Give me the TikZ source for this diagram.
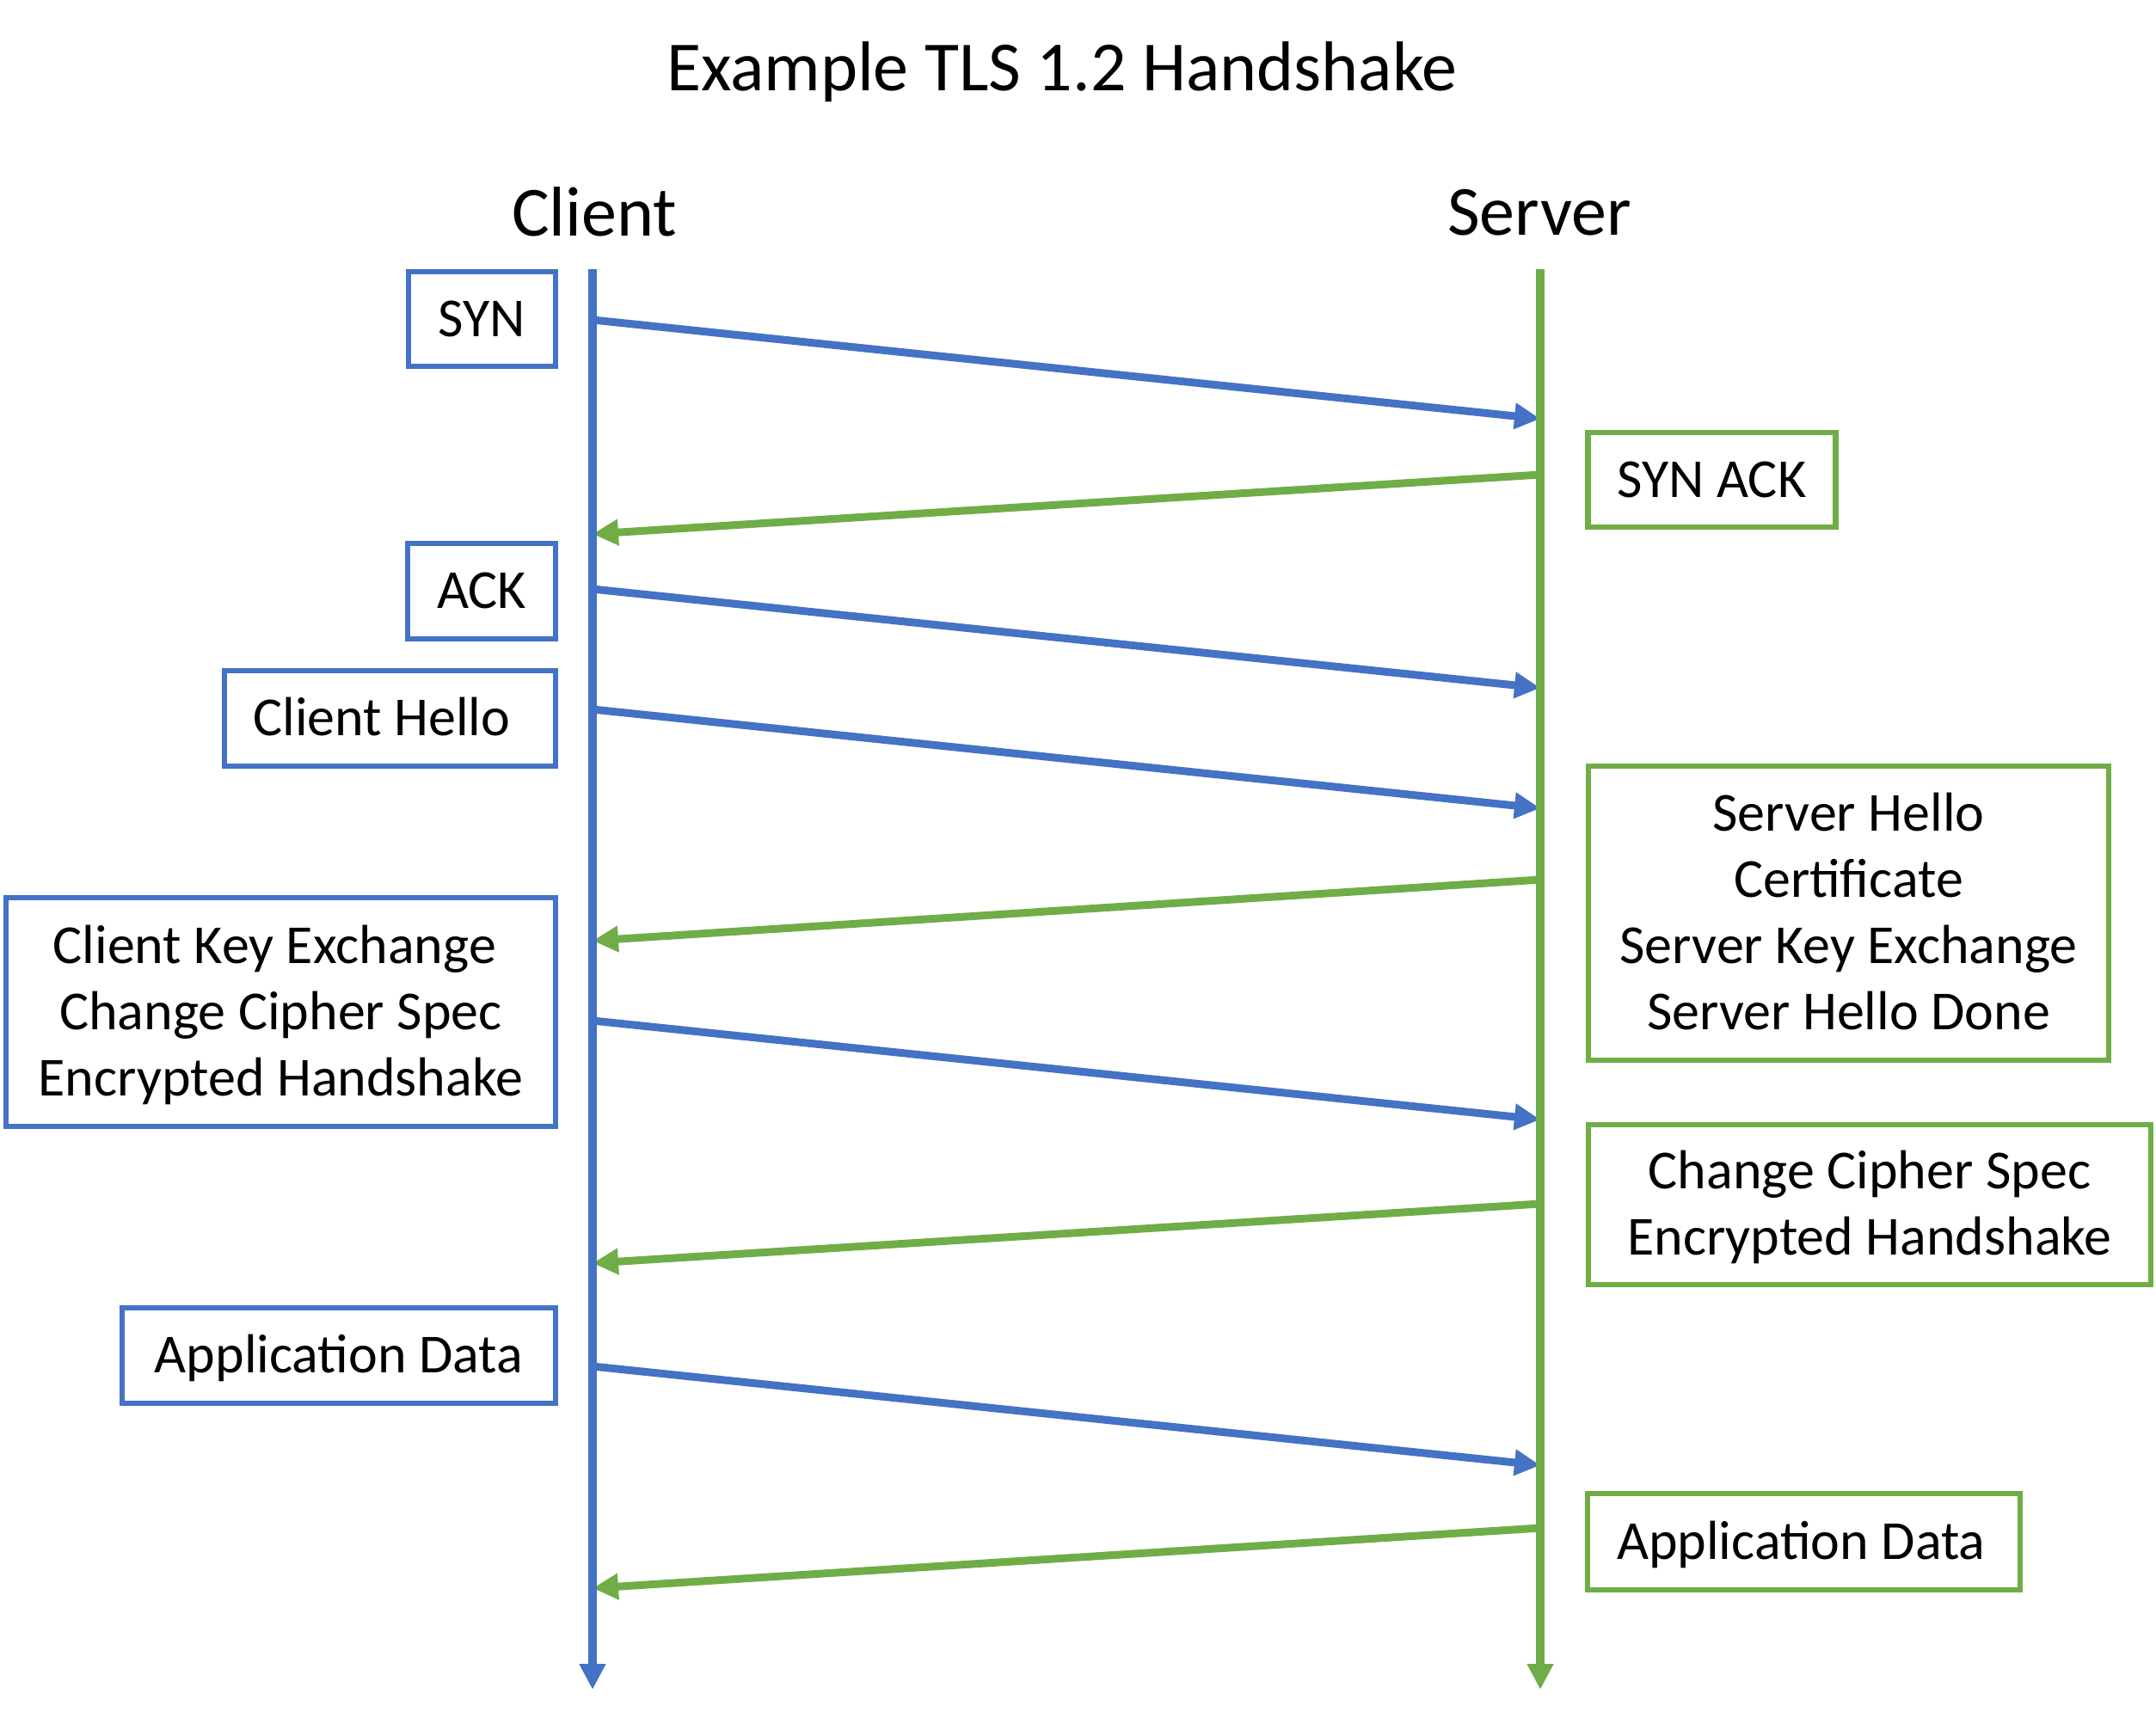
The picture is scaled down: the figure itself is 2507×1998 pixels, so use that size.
\documentclass[tikz,border=0pt]{standalone}
\usepackage{fontspec}
\setmainfont{Carlito}
\usetikzlibrary{arrows.meta}
\definecolor{cblue}{HTML}{4472C4}
\definecolor{cgreen}{HTML}{70AD47}
\newcommand{\firstl}[1]{\rule{0pt}{0.632em}\smash{#1}}
\newcommand{\nextl}[1]{\smash{#1}}
\begin{document}
\begin{tikzpicture}[x=0.5pt,y=-0.5pt,
  msgbox/.style={draw, line width=3.4pt, rectangle, inner sep=0pt, align=center,
    font=\fontsize{32pt}{38.5pt}\selectfont},
  cbox/.style={msgbox, draw=cblue},
  sbox/.style={msgbox, draw=cgreen},
  lifeline/.style={line width=5pt, -{Triangle[length=15pt,width=14.5pt]}},
  msg/.style={line width=4.5pt, -{Triangle[length=15pt,width=14.5pt]}},
  head/.style={font=\fontsize{41pt}{49pt}\selectfont, anchor=base, inner sep=0pt}
]
\useasboundingbox (0,0) rectangle (2507,1998);

% titles
\node[head] (title) at (1235,105) {Example TLS 1.2 Handshake};
\node[head] (client) at (691,274) {Client};
\node[head] (server) at (1790,273) {Server};

% lifeline end points
\coordinate (ctop) at (689,313);
\coordinate (cbot) at (689,1965);
\coordinate (stop) at (1791,313);
\coordinate (sbot) at (1791,1965);

% message end points
\coordinate (c1) at (689,372);  \coordinate (s1) at (1791,487);
\coordinate (s2) at (1791,552); \coordinate (c2) at (689,621);
\coordinate (c3) at (689,685);  \coordinate (s3) at (1791,800);
\coordinate (c4) at (689,825);  \coordinate (s4) at (1791,940);
\coordinate (s5) at (1791,1023);\coordinate (c5) at (689,1094);
\coordinate (c6) at (689,1187); \coordinate (s6) at (1791,1302);
\coordinate (s7) at (1791,1400);\coordinate (c7) at (689,1469);
\coordinate (c8) at (689,1589); \coordinate (s8) at (1791,1704);
\coordinate (s9) at (1791,1777);\coordinate (c9) at (689,1847);

% messages
\draw[msg, cblue]  (c1) -- (s1);
\draw[msg, cgreen] (s2) -- (c2);
\draw[msg, cblue]  (c3) -- (s3);
\draw[msg, cblue]  (c4) -- (s4);
\draw[msg, cgreen] (s5) -- (c5);
\draw[msg, cblue]  (c6) -- (s6);
\draw[msg, cgreen] (s7) -- (c7);
\draw[msg, cblue]  (c8) -- (s8);
\draw[msg, cgreen] (s9) -- (c9);

% lifelines
\draw[lifeline, cblue]  (ctop) -- (cbot);
\draw[lifeline, cgreen] (stop) -- (sbot);

% client boxes
\node[cbox, minimum width=85.5pt, minimum height=55pt] (syn) at (560.5,371) {\firstl{SYN}};
\node[cbox, minimum width=86pt, minimum height=55.5pt] (ack) at (560,687.5) {\firstl{ACK}};
\node[cbox, minimum width=192.5pt, minimum height=55.5pt] (chello) at (453.5,835.5) {\firstl{Client Hello\hspace{0.3em}}};
\node[cbox, minimum width=319.5pt, minimum height=133pt] (ckex) at (326.5,1177)
  {\firstl{Client Key Exchange\hspace{0.226em}}\\ \nextl{Change Cipher Spec}\\ \nextl{Encrypted Handshake}};
\node[cbox, minimum width=252pt, minimum height=55.5pt] (cdata) at (394,1576.5) {\firstl{Application Data}};

% server boxes
\node[sbox, minimum width=144pt, minimum height=55pt] (synack) at (1990.5,558) {\firstl{SYN ACK}};
\node[sbox, minimum width=302.5pt, minimum height=171pt] (shello) at (2149.5,1062)
  {\firstl{Server Hello}\\ \nextl{Certificate}\\ \nextl{Server Key Exchange}\\ \nextl{Server Hello Done}};
\node[sbox, minimum width=327pt, minimum height=93pt] (sccs) at (2174,1401)
  {\firstl{Change Cipher Spec}\\ \nextl{Encrypted Handshake}};
\node[sbox, minimum width=251.5pt, minimum height=56pt] (sdata) at (2097.5,1793) {\firstl{Application Data\hspace{0.1em}}};
\end{tikzpicture}
\end{document}
